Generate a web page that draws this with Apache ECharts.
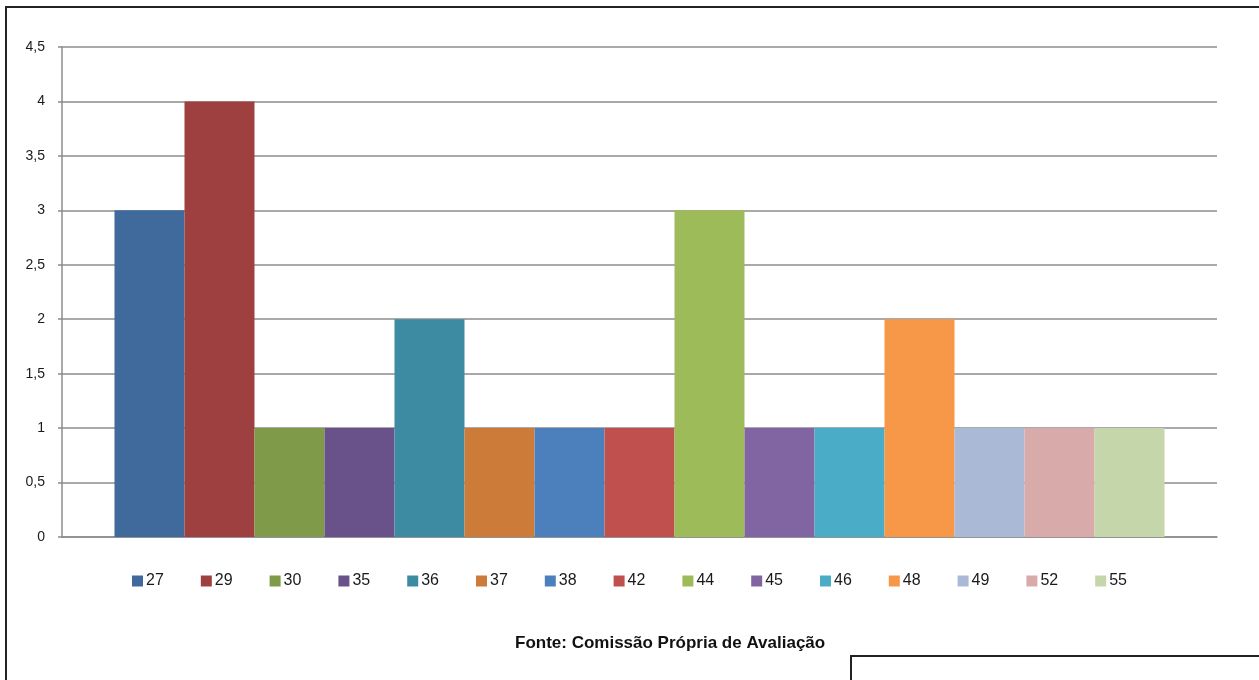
<!DOCTYPE html>
<html>
<head>
<meta charset="utf-8">
<script src="https://cdn.jsdelivr.net/npm/echarts@6/dist/echarts.min.js"></script>
<style>
html,body{margin:0;padding:0;background:#fff;}
#chart{width:1259px;height:680px;}
</style>
</head>
<body>
<div id="chart"></div>
<script>
const seriesNames = ['27','29','30','35','36','37','38','42','44','45','46','48','49','52','55'];
const seriesValues = [3,4,1,1,2,1,1,1,3,1,1,2,1,1,1];
const seriesColors = ['#3F6A9B','#9E403F','#7F9A49','#69528A','#3C8BA3','#CC7B39','#4C80BC','#C0504E','#9DBB59','#8165A2','#4AACC6','#F79748','#AAB9D6','#D9AAAA','#C5D6AB'];
const yTicks = {min:0, max:4.5, interval:0.5};
const footerText = 'Fonte: Comissão Própria de Avaliação';

const FONT = 'Liberation Sans';
const chart = echarts.init(document.getElementById('chart'), null, {renderer:'canvas'});

const series = seriesNames.map((n,i)=>({
  name:n, type:'bar',
  data:[seriesValues[i]],
  barGap:'0%', barCategoryGap:'9.09%',
  itemStyle:{color:seriesColors[i]},
  emphasis:{disabled:true},
  animation:false
}));

chart.setOption({
  animation:false,
  color:seriesColors,
  textStyle:{fontFamily:FONT},
  grid:{left:62, right:42, top:47, bottom:143, containLabel:false},
  xAxis:{
    type:'category', data:[''],
    axisLine:{show:true, lineStyle:{color:'#8c8c8c', width:1.5}},
    axisTick:{show:false},
    axisLabel:{show:false},
    splitLine:{show:false}
  },
  yAxis:{
    type:'value', min:yTicks.min, max:yTicks.max, interval:yTicks.interval,
    axisLine:{show:true, lineStyle:{color:'#8c8c8c', width:1.5}},
    axisTick:{show:true, length:4, lineStyle:{color:'#8c8c8c', width:1.5}},
    axisLabel:{color:'#1a1a1a', fontSize:14, fontFamily:FONT, margin:17,
      formatter:v=>String(v).replace('.',',')},
    splitLine:{show:true, lineStyle:{color:'#8c8c8c', width:1.5}}
  },
  legend:{
    bottom:86, left:'center',
    itemWidth:11, itemHeight:11, itemGap:37,
    icon:'rect',
    textStyle:{fontSize:16, color:'#1a1a1a', fontFamily:FONT, padding:[0,0,0,-2]},
    data:seriesNames
  },
  graphic:[
    {type:'polyline', shape:{points:[[6,690],[6,7],[1265,7]]}, style:{stroke:'#222', lineWidth:2, fill:null}, silent:true},
    {type:'polyline', shape:{points:[[851,690],[851,656],[1265,656]]}, style:{stroke:'#222', lineWidth:2, fill:null}, silent:true},
    {type:'text', left:515, top:635, style:{text:footerText, fontFamily:FONT, fontWeight:'bold', fontSize:17, fill:'#111'}}
  ],
  series:series
});
</script>
</body>
</html>
